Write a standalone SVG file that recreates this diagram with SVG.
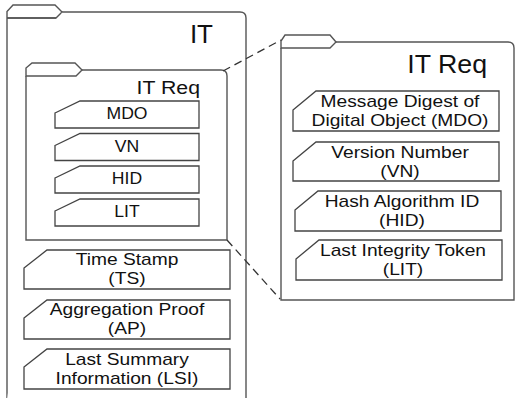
<svg xmlns="http://www.w3.org/2000/svg" width="516" height="398" viewBox="0 0 516 398">
<style>
.f{fill:#fff;stroke:#555;stroke-width:1.4;stroke-linejoin:miter}
.b{fill:#fff;stroke:#444;stroke-width:1.3}
.ln{fill:none;stroke:#555;stroke-width:1.4}
.c{fill:none;stroke:#333;stroke-width:1.3;stroke-dasharray:8 5}
text{font-family:"Liberation Sans",Arial,sans-serif;fill:#111}
.t1{font-size:25px;text-anchor:end}
.t2{font-size:19px;text-anchor:end}
.s{font-size:16px;text-anchor:middle}
.m{font-size:16px;text-anchor:middle}
</style>
<rect width="516" height="398" fill="#fff"/>
<g id="it">
<path class="f" d="M7,400 V11.5 L13,5 H55 L62,12 L56,18 H7"/>
<path class="f" d="M62,12 H240 Q246,12 246,18 V400 H7"/>
<path class="ln" d="M7,18 H56"/>
<text class="t1" transform="translate(213,43) scale(1.04,1)">IT</text>
</g>
<g id="itreq">
<path class="f" d="M82,70 H221 Q227,70 227,76 V240 H26 V76"/>
<path class="f" d="M26,76 V68 L32,63 H75 L82,70 L76,76 Z"/>
<text class="t2" transform="translate(200,94) scale(1.12,1)">IT Req</text>
</g>
<g id="mdo">
<path class="b" d="M55,113 L80,101 H199 V128 H55 Z"/>
<text class="s" transform="translate(127,119) scale(1.1,1)">MDO</text>
</g>
<g id="vn">
<path class="b" d="M55,145.5 L80,133.5 H199 V160.5 H55 Z"/>
<text class="s" transform="translate(127,151.5) scale(1.1,1)">VN</text>
</g>
<g id="hid">
<path class="b" d="M55,178 L80,166 H199 V193 H55 Z"/>
<text class="s" transform="translate(127,184) scale(1.1,1)">HID</text>
</g>
<g id="lit">
<path class="b" d="M55,211 L80,199 H199 V226 H55 Z"/>
<text class="s" transform="translate(127,217) scale(1.1,1)">LIT</text>
</g>
<g id="ts">
<path class="b" d="M24,268 L47,250 H230 V289 H24 Z"/>
<text class="m" transform="translate(127,265) scale(1.2,1)">Time Stamp</text>
<text class="m" transform="translate(127,284) scale(1.2,1)">(TS)</text>
</g>
<g id="ap">
<path class="b" d="M24,318 L47,300 H230 V339 H24 Z"/>
<text class="m" transform="translate(127,314.5) scale(1.2,1)">Aggregation Proof</text>
<text class="m" transform="translate(127,333.5) scale(1.2,1)">(AP)</text>
</g>
<g id="lsi">
<path class="b" d="M24,367 L47,349 H230 V389 H24 Z"/>
<text class="m" transform="translate(127,365) scale(1.2,1)">Last Summary</text>
<text class="m" transform="translate(127,384) scale(1.2,1)">Information (LSI)</text>
</g>
<g id="itreq-detail">
<path class="f" d="M336,42 H508 Q514,42 514,48 V300 H281 V48"/>
<path class="f" d="M281,48 V41 L285,35 H330 L336,42 L330,48 Z"/>
<text class="t1" transform="translate(487,73) scale(1.07,1)">IT Req</text>
</g>
<g id="mdo-detail">
<path class="b" d="M293,110 L316,91 H499 V131 H293 Z"/>
<text class="m" transform="translate(400,106.5) scale(1.2,1)">Message Digest of</text>
<text class="m" transform="translate(400,125.5) scale(1.2,1)">Digital Object (MDO)</text>
</g>
<g id="vn-detail">
<path class="b" d="M293,161 L316,142 H499 V181 H293 Z"/>
<text class="m" transform="translate(400,158) scale(1.2,1)">Version Number</text>
<text class="m" transform="translate(400,177) scale(1.2,1)">(VN)</text>
</g>
<g id="hid-detail">
<path class="b" d="M295,210 L318,191 H501 V231 H295 Z"/>
<text class="m" transform="translate(402,206.5) scale(1.2,1)">Hash Algorithm ID</text>
<text class="m" transform="translate(402,225.5) scale(1.2,1)">(HID)</text>
</g>
<g id="lit-detail">
<path class="b" d="M296,259 L319,240 H502 V280 H296 Z"/>
<text class="m" transform="translate(403,255.5) scale(1.2,1)">Last Integrity Token</text>
<text class="m" transform="translate(403,274.5) scale(1.2,1)">(LIT)</text>
</g>
<g id="connectors">
<line class="c" x1="223" y1="71" x2="281" y2="40"/>
<line class="c" x1="227" y1="240" x2="280" y2="299"/>
</g>
</svg>
